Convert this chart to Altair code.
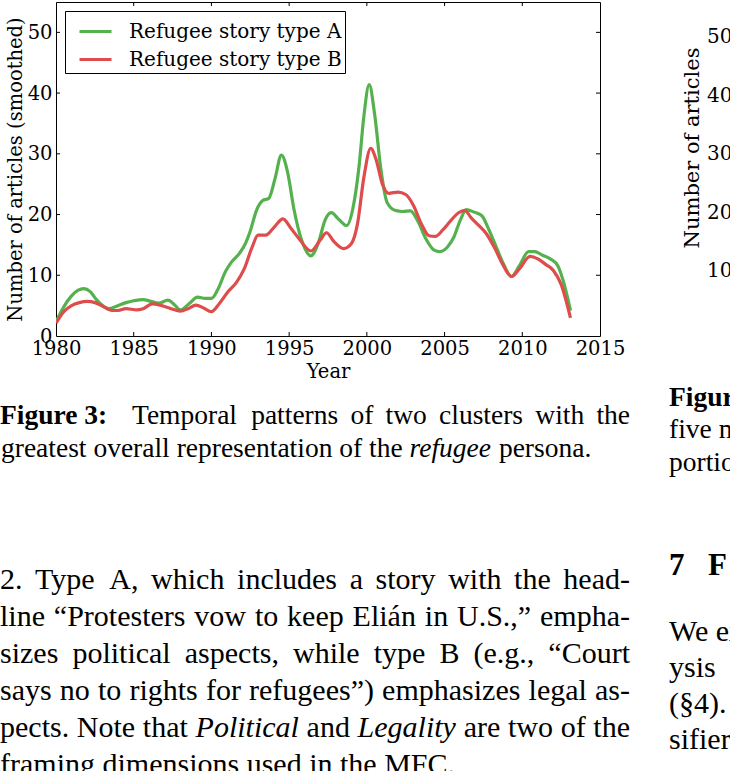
import altair as alt
import pandas as pd

# ---------------- data ----------------
series_names = ["Refugee story type A", "Refugee story type B"]

years_a = [1980.0, 1980.5, 1981.0, 1981.4, 1981.8, 1982.2, 1982.6, 1983.0, 1983.4, 1983.9,
           1984.5, 1985.0, 1985.6, 1986.1, 1986.6, 1987.2, 1987.6, 1988.0, 1988.6, 1989.1,
           1989.6, 1990.0, 1990.4, 1990.9, 1991.3, 1991.8, 1992.2, 1992.5, 1992.9, 1993.3,
           1993.7, 1994.1, 1994.5, 1994.9, 1995.3, 1995.8, 1996.4, 1996.9, 1997.3, 1997.7,
           1998.2, 1998.7, 1999.1, 1999.5, 1999.8, 2000.15, 2000.5, 2000.9, 2001.3, 2001.8,
           2002.3, 2002.8, 2003.3, 2003.8, 2004.3, 2004.7, 2005.2, 2005.6, 2006.0, 2006.4,
           2006.9, 2007.4, 2007.8, 2008.3, 2008.8, 2009.3, 2009.8, 2010.4, 2010.8, 2011.3,
           2011.8, 2012.3, 2012.7, 2013.1]
vals_a = [2.3, 4.8, 6.6, 7.5, 7.8, 7.3, 6.0, 5.0, 4.5, 4.9,
          5.5, 5.8, 6.0, 5.7, 5.4, 5.9, 5.2, 4.3, 5.4, 6.4,
          6.2, 6.2, 7.6, 10.6, 12.2, 13.6, 15.3, 17.3, 20.7, 22.3,
          22.7, 26.0, 29.8, 27.0, 21.0, 15.8, 13.2, 15.5, 19.0, 20.3,
          19.2, 18.2, 21.0, 28.0, 36.0, 41.4, 36.5, 27.5, 22.0, 20.7,
          20.5, 20.6, 18.8, 16.0, 14.2, 13.9, 14.7, 16.3, 19.0, 20.8,
          20.4, 19.8, 17.8, 14.8, 11.8, 9.8, 11.5, 13.9, 13.9, 13.3,
          12.7, 11.5, 8.5, 4.2]

years_b = [1980.0, 1980.5, 1981.0, 1981.5, 1982.0, 1982.5, 1983.0, 1983.6, 1984.0, 1984.5,
           1985.2, 1985.6, 1986.2, 1986.8, 1987.4, 1988.0, 1988.5, 1989.0, 1989.5, 1990.0,
           1990.5, 1991.1, 1991.6, 1992.1, 1992.6, 1993.0, 1993.5, 1994.0, 1994.6, 1995.1,
           1995.7, 1996.4, 1997.0, 1997.4, 1997.9, 1998.5, 1999.0, 1999.4, 1999.8, 2000.25,
           2000.6, 2001.0, 2001.4, 2002.0, 2002.5, 2003.0, 2003.5, 2004.0, 2004.4, 2004.9,
           2005.4, 2005.9, 2006.3, 2006.7, 2007.2, 2007.7, 2008.2, 2008.7, 2009.3, 2009.8,
           2010.5, 2011.0, 2011.5, 2012.0, 2012.5, 2013.1]
vals_b = [2.1, 4.0, 5.0, 5.5, 5.7, 5.5, 4.9, 4.2, 4.2, 4.5,
          4.3, 4.5, 5.3, 5.0, 4.5, 4.1, 4.5, 5.1, 4.6, 4.0,
          5.3, 7.4, 8.8, 11.0, 14.5, 16.6, 16.6, 17.8, 19.3, 17.8,
          15.8, 14.0, 15.8, 17.0, 15.5, 14.4, 15.2, 18.5, 26.0, 30.9,
          29.0, 25.0, 23.5, 23.7, 23.3, 21.5, 18.5, 16.5, 16.4, 17.5,
          19.0, 20.3, 20.7, 19.5, 18.2, 16.8, 14.6, 12.0, 9.8, 11.0,
          13.1, 12.7, 11.8, 10.8, 8.5, 3.0]

x_ticks = [1980, 1985, 1990, 1995, 2000, 2005, 2010, 2015]
y_ticks = [0, 10, 20, 30, 40, 50]

# page text (content only)
caption_bold = "Figure 3:"
caption_line1 = "Temporal patterns of two clusters with the"
caption_line2 = "greatest overall representation of the refugee persona."
body_lines = [
    "2.  Type A, which includes a story with the head-",
    "line \u201cProtesters vow to keep Eli\u00e1n in U.S.,\u201d empha-",
    "sizes political aspects, while type B (e.g., \u201cCourt",
    "says no to rights for refugees\u201d) emphasizes legal as-",
    "pects. Note that Political and Legality are two of the",
    "framing dimensions used in the MFC.",
]
italic_words = {"refugee", "Political", "Legality"}
right_fig_title = "Number of articles"
right_fig_ticks = ["50", "40", "30", "20", "10"]
right_caption_bold = "Figure 4:"
right_caption = ["five most", "portion"]
right_heading_num = "7"
right_heading = "F"
right_body = ["We examine", "ysis", "(\u00a74).", "sifier"]

# ---------------- layout ----------------
W, H = 544, 334
OX, OY = 56, 2  # plot origin on the page
GREEN, RED = "#55b14e", "#de4c4c"
CHART_FONT = "DejaVu Serif"
PAGE_FONT = "Liberation Serif"
COL_W = 630
CAP_SIZE, BODY_SIZE = 27.5, 30

# approximate Times metrics (per em) for justifying text lines
ROMAN = {" ": .25, ",": .25, ".": .25, "-": .333, "(": .333, ")": .333, ":": .278,
         "\u201c": .444, "\u201d": .444, "\u00e1": .444, "\u00a7": .5,
         "A": .722, "B": .667, "C": .667, "E": .611, "F": .556, "L": .611, "M": .889,
         "N": .722, "P": .556, "S": .556, "T": .611, "U": .722,
         "a": .444, "b": .5, "c": .444, "d": .5, "e": .444, "f": .333, "g": .5, "h": .5,
         "i": .278, "j": .278, "k": .5, "l": .278, "m": .778, "n": .5, "o": .5, "p": .5,
         "q": .5, "r": .333, "s": .389, "t": .278, "u": .5, "v": .5, "w": .722, "x": .5,
         "y": .5, "z": .444}
ITALIC = dict(ROMAN, **{"a": .5, "f": .278, "r": .389, "y": .444, "P": .611, "L": .556})


def width(word, italic=False):
    tab = ITALIC if italic else ROMAN
    return sum(tab.get(ch, .5) for ch in word)


def layout_line(line, size, y, x0=0.0, x1=COL_W, justify=True):
    words = line.split()
    ws = [width(w, w in italic_words) * size for w in words]
    if justify and len(words) > 1:
        gap = (x1 - x0 - sum(ws)) / (len(words) - 1)
    else:
        gap = .25 * size
    rows, x = [], x0
    for w, wd in zip(words, ws):
        rows.append({"t": w, "x": x - OX, "y": y - OY, "s": size,
                     "style": "italic" if w in italic_words else "normal"})
        x += wd + gap
    return rows


word_rows = []
word_rows += layout_line(caption_line1, CAP_SIZE, 424, x0=132)
word_rows += layout_line(caption_line2, CAP_SIZE, 457, x0=1, justify=False)
for i, line in enumerate(body_lines):
    word_rows += layout_line(line, BODY_SIZE, 589 + 37 * i,
                             justify=(i < len(body_lines) - 1))
words_df = pd.DataFrame(word_rows)

df = pd.concat([
    pd.DataFrame({"year": years_a, "value": vals_a, "series": series_names[0]}),
    pd.DataFrame({"year": years_b, "value": vals_b, "series": series_names[1]}),
])

xscale = alt.Scale(domain=[1980, 2015], nice=False, zero=False)
yscale = alt.Scale(domain=[0, 55], nice=False, zero=False)

lines = alt.Chart(df).mark_line(strokeWidth=3.2, interpolate="monotone", clip=True).encode(
    x=alt.X("year:Q", scale=xscale,
            axis=alt.Axis(values=x_ticks, format="d", title="Year", grid=False, ticks=False,
                          domain=False, labelFont=CHART_FONT, labelFontSize=19.5,
                          labelColor="black", labelPadding=3, labelFlush=False,
                          titleFont=CHART_FONT, titleFontSize=19.5, titleFontWeight="normal",
                          titleColor="black", titleX=272, titleY=41,
                          titleBaseline="alphabetic")),
    y=alt.Y("value:Q", scale=yscale,
            axis=alt.Axis(values=y_ticks, title="Number of articles (smoothed)", grid=False,
                          ticks=False, domain=False, labelFont=CHART_FONT, labelFontSize=19.5,
                          labelColor="black", labelPadding=4, labelFlush=False,
                          titleFont=CHART_FONT, titleFontSize=19.5, titleFontWeight="normal",
                          titleColor="black", titleX=-41, titleY=167, titleAngle=-90,
                          titleAlign="center", titleBaseline="middle")),
    color=alt.Color("series:N",
                    scale=alt.Scale(domain=series_names, range=[GREEN, RED]),
                    legend=alt.Legend(title=None, orient="none", legendX=9, legendY=9,
                                      symbolType="stroke", symbolSize=1024,
                                      symbolStrokeWidth=3, labelFont=CHART_FONT,
                                      labelFontSize=20, labelColor="black",
                                      labelOffset=16, strokeColor="black",
                                      fillColor="white", padding=3, symbolOffset=10,
                                      rowPadding=0, cornerRadius=0, labelLimit=400)),
)

xt = pd.DataFrame({"year": x_ticks[1:-1]})
yt = pd.DataFrame({"value": y_ticks[1:]})
tick_len = 4
ticks_bottom = alt.Chart(xt).mark_rule(color="black").encode(
    x=alt.X("year:Q", scale=xscale), y=alt.value(H), y2=alt.value(H - tick_len))
ticks_top = alt.Chart(xt).mark_rule(color="black").encode(
    x=alt.X("year:Q", scale=xscale), y=alt.value(0), y2=alt.value(tick_len))
ticks_left = alt.Chart(yt).mark_rule(color="black").encode(
    y=alt.Y("value:Q", scale=yscale), x=alt.value(0), x2=alt.value(tick_len))
ticks_right = alt.Chart(yt).mark_rule(color="black").encode(
    y=alt.Y("value:Q", scale=yscale), x=alt.value(W), x2=alt.value(W - tick_len))


def word_layer(style):
    return alt.Chart(words_df).transform_filter(
        alt.datum.style == style
    ).mark_text(font=PAGE_FONT, fontStyle=style, color="black", align="left",
                baseline="alphabetic").encode(
        text="t:N",
        x=alt.X("x:Q", scale=None),
        y=alt.Y("y:Q", scale=None),
        size=alt.Size("s:Q", scale=None, legend=None),
    )


def txt(s, x_abs, y_abs, size, weight="normal", style="normal", font=PAGE_FONT, angle=0,
        align="left"):
    return alt.Chart(pd.DataFrame({"t": [s]})).mark_text(
        font=font, fontSize=size, fontWeight=weight, fontStyle=style, color="black",
        align=align, baseline="alphabetic", angle=angle,
    ).encode(text="t:N", x=alt.value(x_abs - OX), y=alt.value(y_abs - OY))


texts = [word_layer("normal"), word_layer("italic"),
         txt(caption_bold, 0, 424, CAP_SIZE, weight="bold")]
# right column fragments
texts.append(txt(right_fig_title, 699, 148, 21, font=CHART_FONT, angle=270, align="center"))
for i, s in enumerate(right_fig_ticks):
    texts.append(txt(s, 707, 43 + 58.5 * i, 20, font=CHART_FONT))
texts.append(txt(right_caption_bold, 669, 406, CAP_SIZE, weight="bold"))
for s, yp in zip(right_caption, [438, 471]):
    texts.append(txt(s, 669, yp, CAP_SIZE))
texts.append(txt(right_heading_num, 669, 575, 31, weight="bold"))
texts.append(txt(right_heading, 708, 575, 31, weight="bold"))
for s, yp in zip(right_body, [641, 677, 713, 749]):
    texts.append(txt(s, 669, yp, BODY_SIZE))

chart = alt.layer(lines, ticks_bottom, ticks_top, ticks_left, ticks_right, *texts).properties(
    width=W, height=H,
    autosize=alt.AutoSizeParams(type="none"),
    padding={"left": OX, "top": OY, "right": 730 - OX - W, "bottom": 771 - OY - H},
    background="white",
).configure_view(stroke="black", strokeWidth=1)

chart.save("out.html", embed_options={"renderer": "svg", "actions": False})
